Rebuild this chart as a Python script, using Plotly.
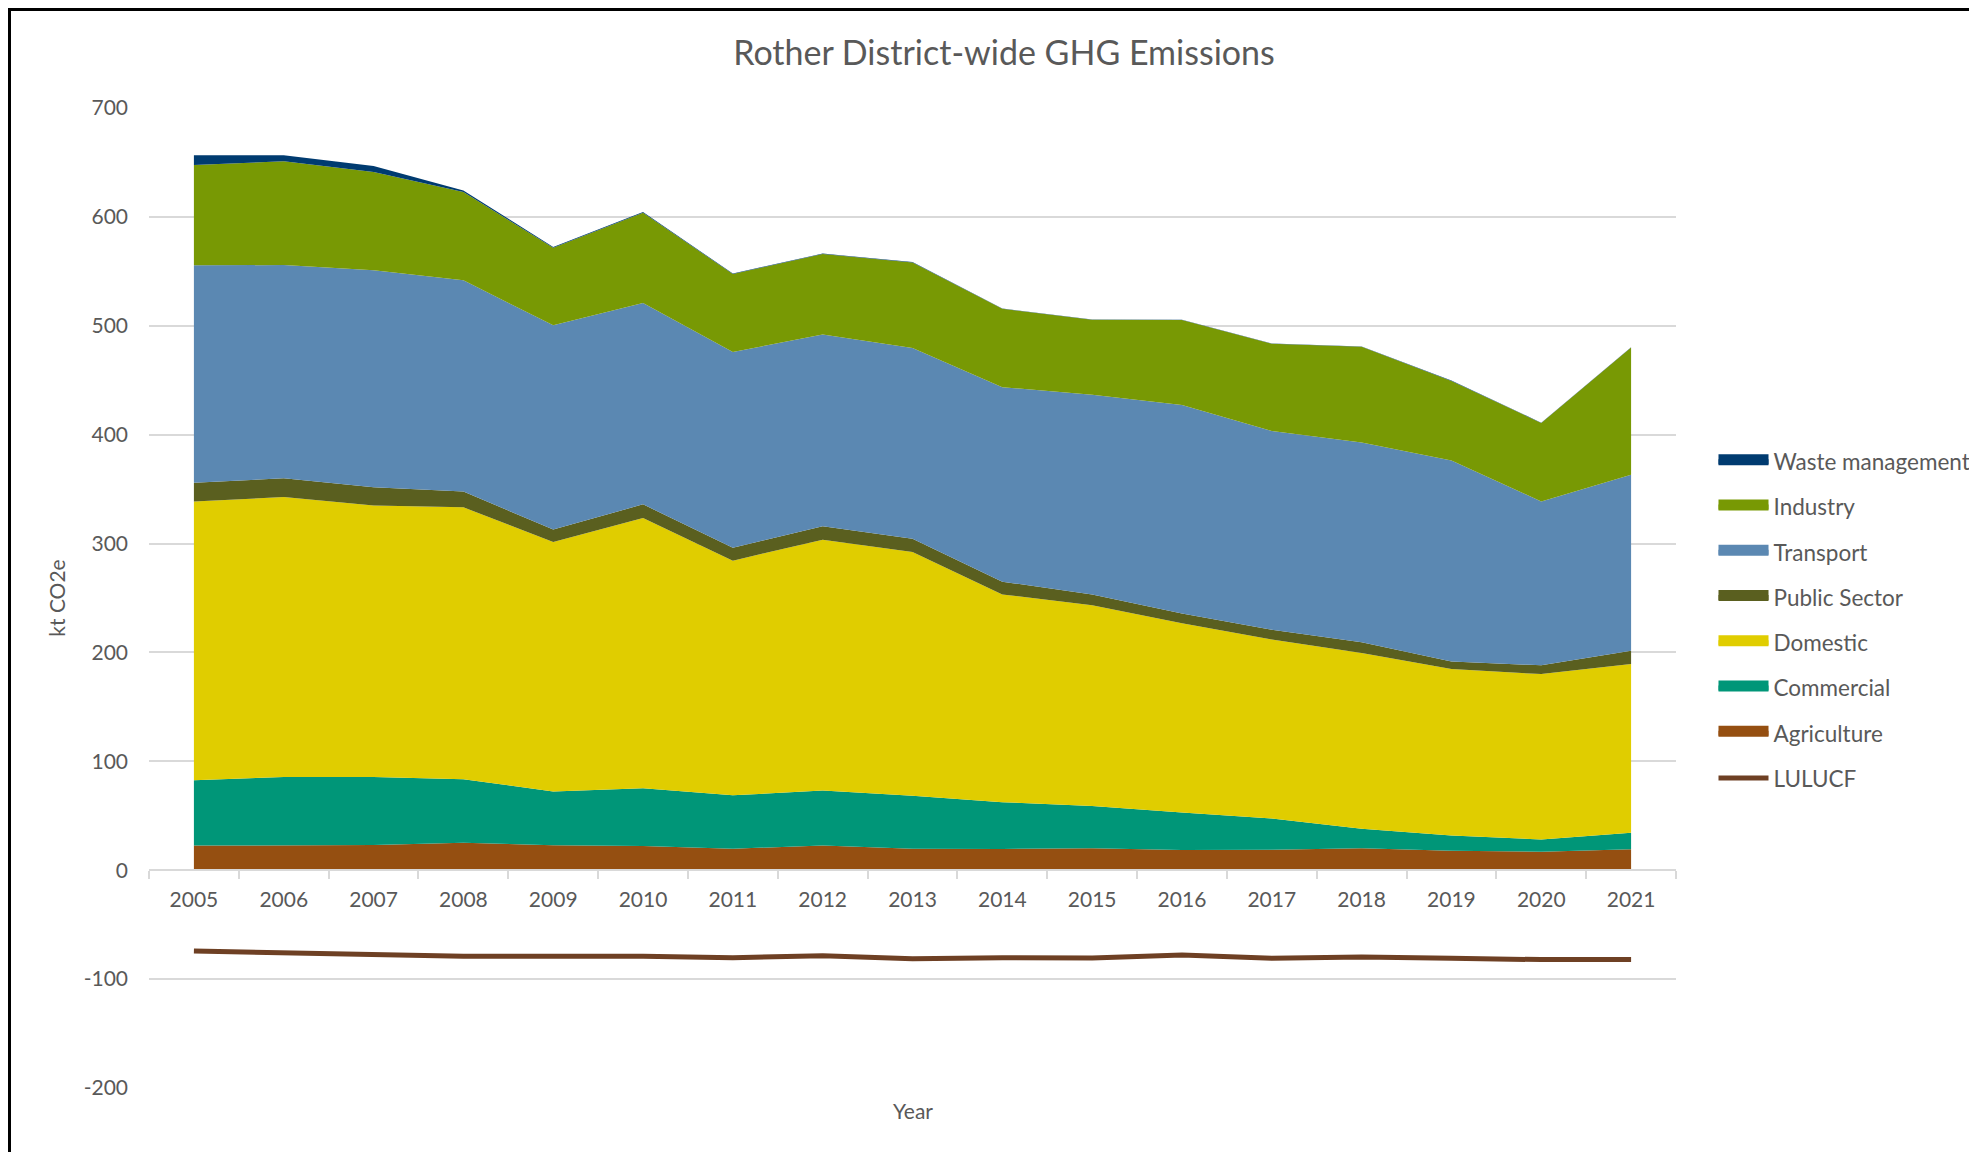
import plotly.graph_objects as go

# ---------------- data (kt CO2e) ----------------
years = [str(y) for y in range(2005, 2022)]
agriculture = [22.6, 22.6, 23.2, 25.3, 22.9, 22.2, 19.8, 22.6, 19.8, 19.5, 20.2, 18.5, 18.8, 20.2, 17.8, 17.0, 19.2]
commercial = [60.0, 63.0, 62.4, 58.2, 49.5, 53.0, 49.0, 50.5, 48.7, 43.0, 38.7, 34.4, 28.8, 17.9, 14.0, 11.3, 15.1]
domestic = [256.1, 257.1, 249.4, 249.8, 229.0, 248.2, 215.5, 230.5, 223.7, 190.8, 184.5, 174.0, 164.2, 161.4, 152.9, 151.8, 155.0]
public_sector = [17.2, 17.2, 16.6, 14.6, 11.4, 12.6, 11.9, 12.2, 12.3, 11.7, 9.9, 8.8, 9.1, 9.8, 7.0, 8.1, 12.3]
transport = [199.6, 195.9, 199.3, 193.8, 187.6, 184.9, 179.7, 176.3, 175.1, 178.6, 183.3, 191.5, 182.4, 183.5, 184.6, 150.5, 161.7]
industry = [92.1, 95.2, 90.3, 81.1, 71.3, 82.9, 71.6, 73.8, 78.6, 72.0, 68.9, 78.1, 80.2, 87.9, 73.1, 72.0, 116.7]
waste = [8.9, 5.5, 5.5, 1.5, 0.6, 0.6, 0.5, 0.4, 0.3, 0.3, 0.3, 0.3, 0.3, 0.3, 0.3, 0.3, 0.3]
lulucf = [-74.2, -75.7, -77.2, -79.0, -79.0, -79.0, -80.3, -78.5, -81.2, -80.3, -80.6, -77.9, -80.9, -79.7, -80.9, -82.1, -82.1]

y_tick_values = [-200, -100, 0, 100, 200, 300, 400, 500, 600, 700]
y_tick_labels = ["-200", "-100", "0", "100", "200", "300", "400", "500", "600", "700"]

# stacking order bottom -> top
stack_series = [
    ("Agriculture", agriculture, "#954F11"),
    ("Commercial", commercial, "#009678"),
    ("Domestic", domestic, "#E0CD00"),
    ("Public Sector", public_sector, "#5A5F1F"),
    ("Transport", transport, "#5B88B2"),
    ("Industry", industry, "#789904"),
    ("Waste management", waste, "#003B70"),
]
lulucf_color = "#6E4024"

FONT = "Lato"
TXT = "#595959"
GRID = "#D9D9D9"

# figure sits inside the page's 8px body margin
W, H = 1969, 1144
ML, MT = 141, 100
PW, PH = 1527, 980

fig = go.Figure()

for name, vals, col in stack_series:
    fig.add_trace(go.Scatter(
        x=years, y=vals, name=name, mode="lines",
        stackgroup="emis", line=dict(width=0, color=col),
        fillcolor=col, showlegend=False,
    ))

fig.add_trace(go.Scatter(
    x=years, y=lulucf, name="LULUCF", mode="lines",
    line=dict(color=lulucf_color, width=5), showlegend=False,
))

# legend entries (top -> bottom as in the reference)
for i, (name, vals, col) in enumerate(reversed(stack_series)):
    fig.add_trace(go.Scatter(
        x=[None], y=[None], name=name, mode="lines",
        fill="toself", fillcolor=col,
        line=dict(color=col, width=10), legendgroup=f"g{i}",
    ))
fig.add_trace(go.Scatter(
    x=[None], y=[None], name="LULUCF", mode="lines",
    line=dict(color=lulucf_color, width=5), legendgroup="g9",
))

fig.update_layout(
    width=W, height=H,
    margin=dict(l=ML, r=W - ML - PW, t=MT, b=H - MT - PH, autoexpand=False),
    paper_bgcolor="white", plot_bgcolor="white",
    font=dict(family=FONT, size=21, color=TXT),
    title=dict(text="Rother District-wide GHG Emissions",
               x=996 / W, xref="container", xanchor="center",
               y=1 - 45 / H, yref="container", yanchor="middle",
               font=dict(family=FONT, size=34, color=TXT)),
    showlegend=True,
    legend=dict(x=1705.5 / W, xref="container", xanchor="left",
                y=0.661, yanchor="top",
                traceorder="grouped", tracegroupgap=13,
                itemwidth=50, font=dict(family=FONT, size=22.5, color=TXT),
                bgcolor="rgba(0,0,0,0)"),
    xaxis=dict(
        type="category", range=[-0.5, 16.5],
        anchor="free", position=200 / 900,
        showline=True, linecolor=GRID, linewidth=1.5,
        ticks="outside", ticklen=8, tickcolor=GRID, tickwidth=1.5,
        tickson="boundaries", showgrid=False, zeroline=False,
        tickfont=dict(family=FONT, size=21, color=TXT),
        ticklabelstandoff=11,
    ),
    yaxis=dict(
        range=[-200, 700], tickvals=y_tick_values, ticktext=y_tick_labels,
        showgrid=True, gridcolor=GRID, gridwidth=1.5, zeroline=False,
        showline=False, ticks="", ticklabelstandoff=20,
        tickfont=dict(family=FONT, size=21, color=TXT),
        title=dict(text="kt CO2e", standoff=12,
                   font=dict(family=FONT, size=21, color=TXT)),
    ),
    annotations=[dict(text="Year", xref="paper", yref="paper",
                      x=(905 - ML) / PW, y=(MT + PH - 1102) / PH,
                      xanchor="center", yanchor="middle", showarrow=False,
                      font=dict(family=FONT, size=21, color=TXT))],
    shapes=[
        dict(type="rect", xref="paper", yref="paper",
             x0=(1.5 - ML) / PW, x1=1.4, y0=-0.2, y1=1 + (MT - 1.5) / PH,
             line=dict(color="black", width=3), fillcolor="rgba(0,0,0,0)"),
    ],
)

fig.write_html("out.html")
